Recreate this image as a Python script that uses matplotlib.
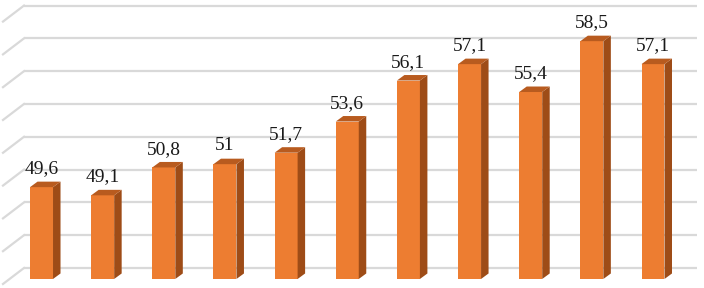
import matplotlib.pyplot as plt
from matplotlib.patches import Polygon
from matplotlib.transforms import ScaledTranslation

values = [49.6, 49.1, 50.8, 51, 51.7, 53.6, 56.1, 57.1, 55.4, 58.5, 57.1]
labels = ["49,6", "49,1", "50,8", "51", "51,7", "53,6", "56,1", "57,1", "55,4", "58,5", "57,1"]
grid_values = [44, 46, 48, 50, 52, 54, 56, 58, 60]
base = 44

front_color = "#ED7D31"
top_color = "#B85B1F"
side_color = "#9E4C17"
grid_color = "#D9D9D9"

fig = plt.figure(figsize=(7.04, 2.88), dpi=100)
ax = fig.add_axes([0, 0, 1, 1])
ax.set_xlim(-0.679, 10.834)
ax.set_ylim(43.45, 61.01)
ax.axis("off")

# px -> unit helpers for the fake 3d depth
ux = 1 / 61.15
uy = 1 / 16.4
dx, dy = 7.5 * ux, 5.5 * uy

# back wall gridlines + slanted side wall lines (wall sits 11px behind/above the bars)
wall = ax.transData + ScaledTranslation(0, 11 / 100, fig.dpi_scale_trans)
for g in grid_values:
    ax.plot([-0.679 + 24 * ux, -0.679 + 697 * ux], [g, g], color=grid_color,
            lw=1.6, transform=wall, zorder=0, solid_capstyle="butt")
    ax.plot([-0.679 + 3 * ux, -0.679 + 24 * ux], [g - 16 * uy, g], color=grid_color,
            lw=1.6, transform=wall, zorder=0)

w = 0.376
for i, v in enumerate(values):
    xl, xr = i - w / 2, i + w / 2
    ax.bar(i, v - base, bottom=base, width=w, color=front_color, zorder=2)
    ax.add_patch(Polygon([(xr, base), (xr + dx, base + dy), (xr + dx, v + dy), (xr, v)],
                         closed=True, color=side_color, zorder=2, lw=0))
    ax.add_patch(Polygon([(xl, v), (xr, v), (xr + dx, v + dy), (xl + dx, v + dy)],
                         closed=True, color=top_color, zorder=2, lw=0))
    ax.text(i, v + 0.6, labels[i], ha="center", va="bottom", fontsize=14,
            family="Liberation Serif", color="#1a1a1a", zorder=3)

fig.savefig("out.png", dpi=100)
